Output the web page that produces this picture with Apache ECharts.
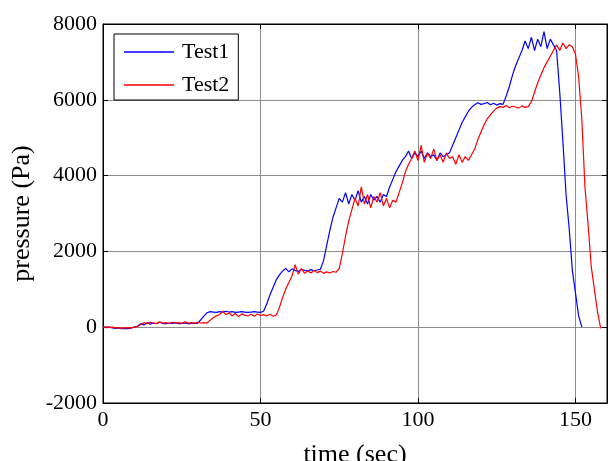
<!DOCTYPE html>
<html>
<head>
<meta charset="utf-8">
<title>pressure vs time</title>
<script src="https://cdn.jsdelivr.net/npm/echarts@6/dist/echarts.min.js"></script>
<style>
  html, body { margin: 0; padding: 0; background: #fff; }
  #main { width: 609px; height: 461px; }
</style>
</head>
<body>
<div id="main"></div>
<script>
// time (sec), one sample per second
const time = [
  0, 1, 2, 3, 4, 5, 6, 7, 8, 9, 10, 11, 12, 13, 14, 15, 16, 17, 18, 19,
  20, 21, 22, 23, 24, 25, 26, 27, 28, 29, 30, 31, 32, 33, 34, 35, 36, 37, 38, 39,
  40, 41, 42, 43, 44, 45, 46, 47, 48, 49, 50, 51, 52, 53, 54, 55, 56, 57, 58, 59,
  60, 61, 62, 63, 64, 65, 66, 67, 68, 69, 70, 71, 72, 73, 74, 75, 76, 77, 78, 79,
  80, 81, 82, 83, 84, 85, 86, 87, 88, 89, 90, 91, 92, 93, 94, 95, 96, 97, 98, 99,
  100, 101, 102, 103, 104, 105, 106, 107, 108, 109, 110, 111, 112, 113, 114, 115, 116, 117, 118, 119,
  120, 121, 122, 123, 124, 125, 126, 127, 128, 129, 130, 131, 132, 133, 134, 135, 136, 137, 138, 139,
  140, 141, 142, 143, 144, 145, 146, 147, 148, 149, 150, 151, 152, 153, 154, 155, 156, 157, 158
]

// Test1 pressure (Pa), t = 0..152
const test1 = [
  0, -10, 10, -20, -30, -20, -40, -30, -40, -20, 0, 30, 90, 60, 120, 80, 110, 90, 130, 100,
  90, 110, 100, 120, 90, 100, 110, 90, 100, 110, 100, 190, 290, 380, 410, 400, 390, 410, 400, 420,
  400, 410, 390, 400, 410, 400, 390, 400, 410, 400, 390, 420, 620, 850, 1050, 1250, 1380, 1480, 1550, 1460,
  1540, 1500, 1470, 1530, 1500, 1480, 1520, 1490, 1510, 1530, 1750, 2150, 2550, 2900, 3150, 3400, 3300, 3550, 3250, 3500,
  3350, 3600, 3300, 3450, 3250, 3500, 3350, 3450, 3300, 3500, 3450, 3700, 3900, 4100, 4250, 4400, 4500, 4650, 4450, 4600,
  4500, 4650, 4450, 4600, 4500, 4550, 4400, 4600, 4500, 4550, 4600, 4800, 5000, 5200, 5400, 5550, 5700, 5800, 5870, 5920,
  5880, 5900, 5930, 5870, 5910, 5860, 5900, 5880, 6100, 6350, 6650, 6900, 7100, 7300, 7550, 7350, 7650, 7300, 7600, 7400,
  7800, 7350, 7600, 7450, 7300, 6200, 4900, 3500, 2600, 1500, 900, 300, 0
]

// Test2 pressure (Pa), t = 0..158
const test2 = [
  0, 10, -10, 0, -20, -10, -30, -20, -10, -20, 0, 20, 70, 120, 90, 130, 110, 100, 140, 110,
  120, 100, 130, 110, 120, 100, 140, 110, 120, 100, 130, 110, 120, 110, 180, 250, 300, 330, 420, 330,
  380, 300, 360, 280, 350, 320, 300, 340, 290, 350, 310, 330, 300, 340, 290, 320, 520, 780, 1000, 1180,
  1350, 1650, 1400, 1550, 1420, 1480, 1430, 1500, 1440, 1480, 1420, 1460, 1430, 1470, 1450, 1550, 1950, 2400, 2800, 3100,
  3400, 3200, 3700, 3250, 3500, 3150, 3450, 3300, 3550, 3200, 3400, 3150, 3350, 3300, 3550, 3800, 4100, 4300, 4450, 4650,
  4400, 4800, 4350, 4600, 4450, 4700, 4400, 4550, 4350, 4600, 4450, 4500, 4300, 4550, 4350, 4500, 4400, 4550, 4700, 4950,
  5150, 5350, 5500, 5600, 5700, 5780, 5820, 5800, 5850, 5790, 5830, 5810, 5780, 5840, 5800, 5820, 5950, 6200, 6450, 6650,
  6850, 7000, 7150, 7300, 7450, 7300, 7500, 7350, 7450, 7400, 7200, 6600, 5500, 3700, 2700, 1600, 1000, 400, -30
]

const xTicks = { min: 0, max: 160, interval: 50 }
const yTicks = { min: -2000, max: 8000, interval: 2000 }

const font = 'Liberation Serif, Times New Roman, serif'

const chart = echarts.init(document.getElementById('main'))

const pairs = (vals) => vals.map((v, i) => [time[i], v])
const plain = (v) => String(v)

const baseX = {
  type: 'value',
  min: xTicks.min,
  max: xTicks.max,
  interval: xTicks.interval,
  axisLine: { show: true, onZero: false, lineStyle: { color: '#000', width: 1 } },
  axisTick: { show: true, inside: true, length: 5, lineStyle: { color: '#000' } },
  splitLine: { show: false }
}
const baseY = {
  type: 'value',
  min: yTicks.min,
  max: yTicks.max,
  interval: yTicks.interval,
  axisLine: { show: true, onZero: false, lineStyle: { color: '#000', width: 1 } },
  axisTick: { show: true, inside: true, length: 5, lineStyle: { color: '#000' } },
  splitLine: { show: false }
}

const option = {
  animation: false,
  backgroundColor: '#fff',
  grid: {
    left: 103,
    right: 2,
    top: 24,
    bottom: 58,
    outerBoundsMode: 'none',
    containLabel: false,
    show: true,
    borderColor: '#000',
    borderWidth: 1
  },
  legend: {
    left: 114,
    top: 34,
    orient: 'vertical',
    padding: [7, 9, 4, 10],
    icon: 'rect',
    itemWidth: 50,
    itemHeight: 1.5,
    itemGap: 11,
    borderColor: '#000',
    borderWidth: 1,
    backgroundColor: '#fff',
    textStyle: { fontFamily: font, fontSize: 22, color: '#000', lineHeight: 22, padding: [0, 0, 0, 3] },
    data: ['Test1', 'Test2']
  },
  xAxis: [
    Object.assign({}, baseX, {
      position: 'bottom',
      name: 'time (sec)',
      nameLocation: 'middle',
      nameGap: 39,
      nameTextStyle: { fontFamily: font, fontSize: 26, color: '#000', verticalAlign: 'top' },
      axisLabel: { show: true, margin: 6, showMaxLabel: false, formatter: plain, fontFamily: font, fontSize: 22, color: '#000' },
      splitLine: { show: true, lineStyle: { color: '#8c8c8c', width: 1 } }
    }),
    Object.assign({}, baseX, { position: 'top', axisLabel: { show: false } })
  ],
  yAxis: [
    Object.assign({}, baseY, {
      position: 'left',
      name: 'pressure (Pa)',
      nameLocation: 'middle',
      nameGap: 68,
      nameRotate: 90,
      nameTextStyle: { fontFamily: font, fontSize: 26, color: '#000' },
      axisLabel: { show: true, margin: 6, formatter: plain, fontFamily: font, fontSize: 22, color: '#000' },
      splitLine: { show: true, lineStyle: { color: '#8c8c8c', width: 1 } }
    }),
    Object.assign({}, baseY, { position: 'right', axisLabel: { show: false } })
  ],
  series: [
    {
      name: 'Test1',
      type: 'line',
      data: pairs(test1),
      showSymbol: false,
      symbol: 'none',
      color: '#0000ff',
      lineStyle: { color: '#0000ff', width: 1.2 }
    },
    {
      name: 'Test2',
      type: 'line',
      data: pairs(test2),
      showSymbol: false,
      symbol: 'none',
      color: '#ff0000',
      lineStyle: { color: '#ff0000', width: 1.2 }
    }
  ]
}

chart.setOption(option)
</script>
</body>
</html>
